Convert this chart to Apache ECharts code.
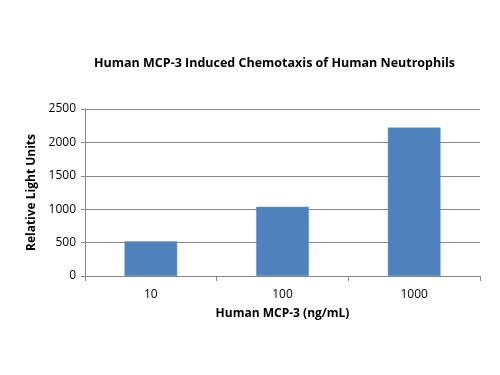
<!DOCTYPE html>
<html><head><meta charset="utf-8">
<script src="https://cdn.jsdelivr.net/npm/echarts@6/dist/echarts.min.js"></script>
<style>html,body{margin:0;padding:0;background:#fff}#c{width:500px;height:375px}</style>
</head><body><div id="c"></div>
<script>
const categories = ['10', '100', '1000'];
const values = [520, 1035, 2222];
const yTicks = [0, 500, 1000, 1500, 2000, 2500];

const chart = echarts.init(document.getElementById('c'), null, {renderer: 'canvas'});
const font = 'Open Sans, Liberation Sans, sans-serif';
chart.setOption({
  animation: false,
  backgroundColor: '#fff',
  title: {
    text: 'Human MCP-3 Induced Chemotaxis of Human Neutrophils',
    left: 89, top: 52,
    textStyle: {fontFamily: font, fontWeight: 'bold', fontSize: 12.5, color: '#000'}
  },
  grid: {left: 85, right: 20, top: 109, bottom: 99, containLabel: false},
  xAxis: {
    type: 'category', data: categories,
    name: 'Human MCP-3 (ng/mL)', nameLocation: 'middle', nameGap: 32,
    nameTextStyle: {fontFamily: font, fontWeight: 'bold', fontSize: 12, color: '#000'},
    axisLine: {lineStyle: {color: '#868686'}},
    axisTick: {show: true, length: 5, lineStyle: {color: '#868686'}},
    axisLabel: {fontFamily: font, fontSize: 12, color: '#000', margin: 13}
  },
  yAxis: {
    type: 'value', min: yTicks[0], max: yTicks[yTicks.length - 1], interval: 500,
    name: 'Relative Light Units', nameLocation: 'middle', nameGap: 47,
    nameTextStyle: {fontFamily: font, fontWeight: 'bold', fontSize: 12, color: '#000'},
    axisLine: {show: true, lineStyle: {color: '#868686'}},
    axisTick: {show: true, length: 4, lineStyle: {color: '#868686'}},
    axisLabel: {fontFamily: font, fontSize: 12, color: '#000', margin: 9,
      formatter: v => String(v)},
    splitLine: {show: true, lineStyle: {color: '#868686', width: 1}}
  },
  series: [{
    type: 'bar', data: values, barWidth: '40%',
    itemStyle: {color: '#4F81BD', borderColor: '#5B8CC6', borderWidth: 0.5}
  }]
});
</script></body></html>
